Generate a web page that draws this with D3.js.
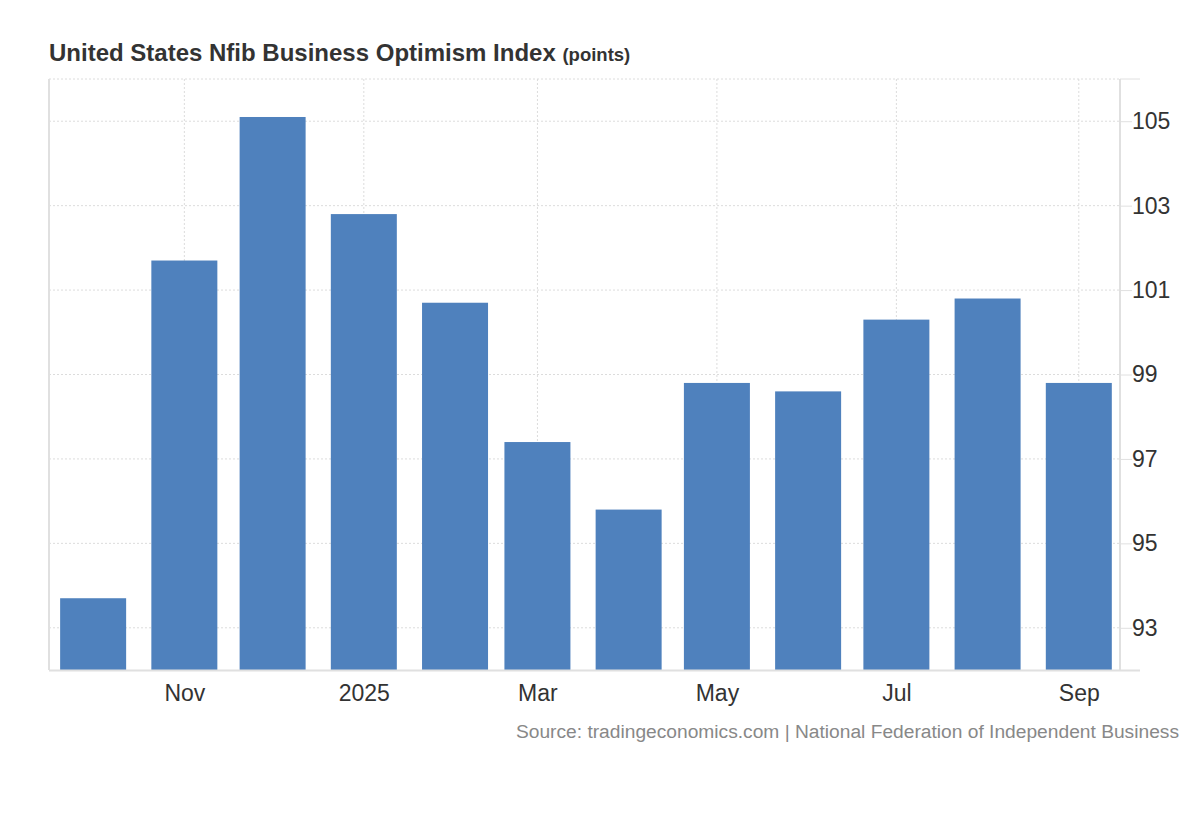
<!DOCTYPE html>
<html>
<head>
<meta charset="utf-8">
<script src="https://cdn.jsdelivr.net/npm/d3@7"></script>
<style>
  body { margin: 0; background: #fff; font-family: "Liberation Sans", Arial, Helvetica, sans-serif; }
</style>
</head>
<body>
<div id="chart"></div>
<script>
// monthly readings, Oct 2024 .. Sep 2025
let months = ['2024-10','2024-11','2024-12','2025-01','2025-02','2025-03','2025-04','2025-05','2025-06','2025-07','2025-08','2025-09']
let values = [93.7, 101.7, 105.1, 102.8, 100.7, 97.4, 95.8, 98.8, 98.6, 100.3, 100.8, 98.8]
let yTicks = [93, 95, 97, 99, 101, 103, 105]
let xTickMonths = ['2024-11','2025-01','2025-03','2025-05','2025-07','2025-09']

let chartWidth = 1200, chartHeight = 820
let plotLeft = 49, plotRight = 1120, plotTop = 79, plotBottom = 670
let barWidth = 66

let parse = d3.timeParse('%Y-%m')
let data = months.map((m, i) => ({date: parse(m), value: values[i]}))

let svg = d3.select('#chart').append('svg')
  .attr('width', chartWidth)
  .attr('height', chartHeight)

// time scale so spacing follows days per month
let x = d3.scaleTime()
  .domain([d3.timeDay.offset(data[0].date, -15), d3.timeDay.offset(data[data.length-1].date, 14)])
  .range([plotLeft, plotRight])

let y = d3.scaleLinear()
  .domain([92, 106])
  .range([plotBottom, plotTop])

// horizontal grid
svg.selectAll('.hgrid').data(yTicks.concat([106])).enter().append('line')
  .attr('x1', plotLeft).attr('x2', plotRight)
  .attr('y1', d => y(d)).attr('y2', d => y(d))
  .attr('stroke', '#dcdcdc')
  .attr('stroke-dasharray', '2,2')

// vertical grid
let xTicks = xTickMonths.map(parse)
svg.selectAll('.vgrid').data(xTicks).enter().append('line')
  .attr('x1', d => x(d)).attr('x2', d => x(d))
  .attr('y1', plotTop).attr('y2', plotBottom)
  .attr('stroke', '#dcdcdc')
  .attr('stroke-dasharray', '2,2')

// bars
svg.selectAll('.bar').data(data).enter().append('rect')
  .attr('class', 'bar')
  .attr('x', d => x(d.date) - barWidth/2)
  .attr('width', barWidth)
  .attr('y', d => y(d.value))
  .attr('height', d => plotBottom - y(d.value))
  .attr('fill', '#4f81bd')

// frame lines
svg.append('line')
  .attr('x1', plotLeft).attr('x2', plotLeft).attr('y1', plotTop).attr('y2', plotBottom)
  .attr('stroke', '#e0e0e0').attr('stroke-width', 2)
svg.append('line')
  .attr('x1', plotRight).attr('x2', plotRight).attr('y1', plotTop).attr('y2', plotBottom)
  .attr('stroke', '#e0e0e0').attr('stroke-width', 2)
svg.append('line')
  .attr('x1', plotLeft).attr('x2', plotRight + 20).attr('y1', plotBottom + 0.5).attr('y2', plotBottom + 0.5)
  .attr('stroke', '#e0e0e0').attr('stroke-width', 2)
svg.append('line')
  .attr('x1', plotRight).attr('x2', plotRight + 20).attr('y1', plotTop).attr('y2', plotTop)
  .attr('stroke', '#e0e0e0').attr('stroke-width', 1)

// right axis
let yAxis = d3.axisRight(y).tickValues(yTicks).tickSize(12).tickPadding(0).tickFormat(d3.format('d'))
let yG = svg.append('g')
  .attr('transform', `translate(${plotRight},0)`)
  .call(yAxis)
yG.select('.domain').remove()
yG.selectAll('line').attr('stroke', '#e0e0e0')
yG.selectAll('text')
  .attr('fill', '#333')
  .style('font-size', '23px')
  .style('font-family', '"Liberation Sans", Arial, sans-serif')

// bottom axis
let fmt = d => d.getMonth() === 0 ? d3.timeFormat('%Y')(d) : d3.timeFormat('%b')(d)
let xAxis = d3.axisBottom(x).tickValues(xTicks).tickSize(0).tickPadding(15).tickFormat(fmt)
let xG = svg.append('g')
  .attr('transform', `translate(0,${plotBottom})`)
  .call(xAxis)
xG.select('.domain').remove()
xG.selectAll('text')
  .attr('fill', '#333')
  .style('font-size', '23px')
  .style('font-family', '"Liberation Sans", Arial, sans-serif')

// title
let title = svg.append('text')
  .attr('x', plotLeft)
  .attr('y', 61)
  .attr('fill', '#333')
  .style('font-weight', 'bold')
  .style('font-size', '24px')
title.append('tspan').text('United States Nfib Business Optimism Index ')
title.append('tspan').style('font-size', '18.5px').text('(points)')

// source
svg.append('text')
  .attr('x', 1179)
  .attr('y', 738)
  .attr('text-anchor', 'end')
  .attr('fill', '#888')
  .style('font-size', '19.2px')
  .text('Source: tradingeconomics.com | National Federation of Independent Business')
</script>
</body>
</html>
